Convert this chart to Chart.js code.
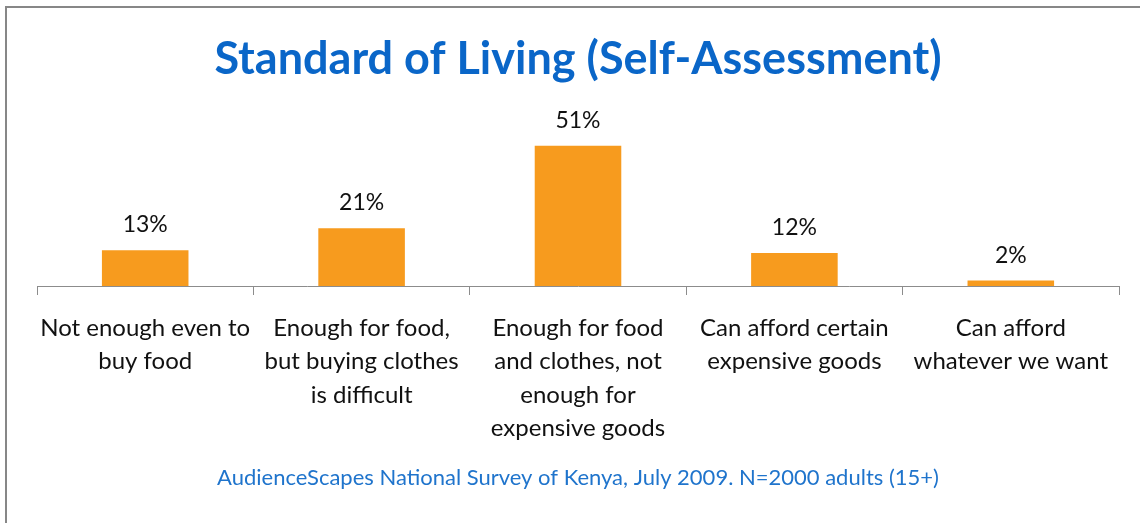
<!DOCTYPE html>
<html><head><meta charset="utf-8">
<script src="https://cdn.jsdelivr.net/npm/chart.js@4"></script>
<style>html,body{margin:0;padding:0;background:#fff;overflow:hidden}#wrap{width:1140px;height:523px;position:relative}</style>
</head><body><div id="wrap"><canvas id="c" width="1140" height="523"></canvas></div>
<script>
// ---- data ----
const categories = [
  ["Not enough even to", "buy food"],
  ["Enough for food,", "but buying clothes", "is difficult"],
  ["Enough for food", "and clothes, not", "enough for", "expensive goods"],
  ["Can afford certain", "expensive goods"],
  ["Can afford", "whatever we want"]
];
const percentages = [13, 21, 51, 12, 2];
const titleText = "Standard of Living (Self-Assessment)";
const sourceText = "AudienceScapes National Survey of Kenya, July 2009. N=2000 adults (15+)";
const yMin = 0;
const yMax = 60;

const FONT = "Lato, 'Open Sans', sans-serif";

const frame = {
  id: 'frame',
  beforeDraw(chart) {
    const ctx = chart.ctx;
    ctx.save();
    ctx.fillStyle = '#fff';
    ctx.fillRect(0, 0, chart.width, chart.height);
    ctx.fillStyle = '#878787';
    ctx.fillRect(5, 6, chart.width - 5, 2);
    ctx.fillRect(5, 6, 2, chart.height - 6);
    ctx.restore();
  }
};

const valueLabels = {
  id: 'valueLabels',
  afterDatasetsDraw(chart) {
    const ctx = chart.ctx;
    const meta = chart.getDatasetMeta(0);
    ctx.save();
    ctx.font = "23px " + FONT;
    ctx.fillStyle = '#111';
    ctx.textAlign = 'center';
    ctx.textBaseline = 'alphabetic';
    meta.data.forEach((bar, i) => {
      ctx.fillText(percentages[i] + '%', bar.x, bar.y - 18);
    });
    ctx.restore();
  }
};

new Chart(document.getElementById('c'), {
  type: 'bar',
  data: {
    labels: categories,
    datasets: [{
      data: percentages,
      backgroundColor: '#F79B1E',
      borderWidth: 0,
      categoryPercentage: 0.8,
      barPercentage: 0.5
    }]
  },
  options: {
    responsive: false,
    devicePixelRatio: 1,
    animation: false,
    layout: { padding: { left: 37, right: 21, top: 0, bottom: 0 } },
    plugins: {
      legend: { display: false },
      tooltip: { enabled: false },
      title: {
        display: true,
        text: titleText,
        color: '#0A66C8',
        font: { family: FONT, size: 45, weight: 'bold', lineHeight: 1.2 },
        padding: { top: 32, bottom: 35 }
      },
      subtitle: {
        display: true,
        position: 'bottom',
        text: sourceText,
        color: '#1F74CC',
        font: { family: FONT, size: 22, lineHeight: 1.2 },
        padding: { top: 0, bottom: 31.8 }
      }
    },
    scales: {
      y: { display: false, min: yMin, max: yMax },
      x: {
        afterFit(scale) { scale.height = 178.8; },
        grid: { drawOnChartArea: false, drawTicks: true, tickLength: 9, color: '#8C8C8C', offset: true },
        border: { display: true, color: '#8C8C8C', width: 1 },
        ticks: {
          color: '#111',
          font: { family: FONT, size: 24, lineHeight: 1.38 },
          padding: 17,
          maxRotation: 0,
          autoSkip: false
        }
      }
    }
  },
  plugins: [frame, valueLabels]
});
</script></body></html>
